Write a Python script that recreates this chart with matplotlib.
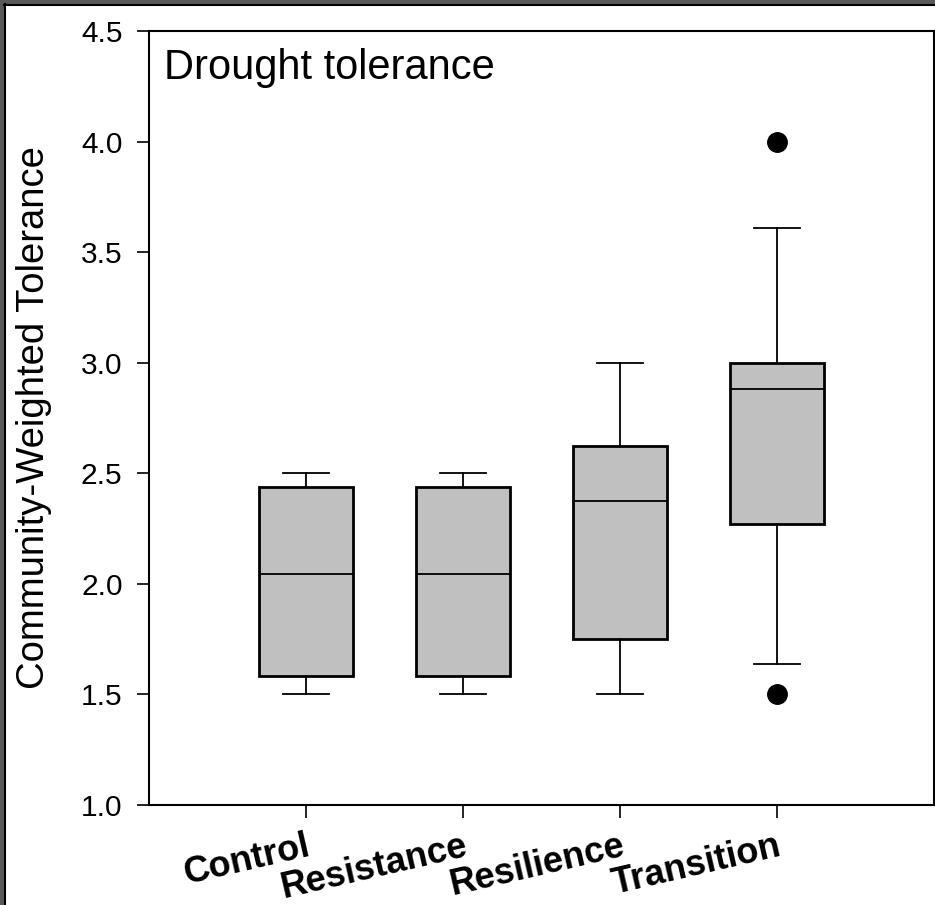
import numpy as np
import matplotlib.pyplot as plt
from matplotlib.patches import Rectangle

plt.rcParams['font.family'] = ['Liberation Sans', 'DejaVu Sans']

groups = ['Control', 'Resistance', 'Resilience', 'Transition']
whislo = [1.5, 1.5, 1.5, 1.636]
q1 = [1.583, 1.583, 1.75, 2.27]
med = [2.044, 2.044, 2.375, 2.88]
q3 = [2.438, 2.438, 2.625, 3.0]
whishi = [2.5, 2.5, 3.0, 3.61]
fliers = [[], [], [], [4.0, 1.5]]

stats = []
for i in range(len(groups)):
    stats.append({'label': groups[i], 'whislo': whislo[i], 'q1': q1[i], 'med': med[i],
                  'q3': q3[i], 'whishi': whishi[i], 'fliers': fliers[i]})

fig = plt.figure(figsize=(9.35, 9.05), dpi=100)
ax = fig.add_axes([149/935, 1-805/905, 785/935, 774/905])

pos = np.arange(1, len(groups)+1)
ax.bxp(stats, positions=pos, widths=0.6, capwidths=0.29, patch_artist=True,
       boxprops=dict(facecolor='#c0c0c0', edgecolor='black', linewidth=2.0),
       medianprops=dict(color='black', linewidth=1.3),
       whiskerprops=dict(color='black', linewidth=1.3),
       capprops=dict(color='black', linewidth=1.3),
       flierprops=dict(marker='o', markerfacecolor='black', markeredgecolor='black', markersize=14))

ax.set_xlim(0, 5)
ax.set_ylim(1.0, 4.5)
ax.set_yticks(np.arange(1.0, 4.51, 0.5))
ax.set_yticklabels(['%.1f' % v for v in np.arange(1.0, 4.51, 0.5)])
ax.set_xticks(pos)
ax.set_xticklabels(groups, rotation=13, ha='right', va='top', rotation_mode='anchor',
                   fontsize=26, fontweight='bold')
ax.tick_params(axis='y', labelsize=21.5, length=9, width=1.2, pad=10)
ax.tick_params(axis='x', length=9, width=1.2, pad=8)
for s in ax.spines.values():
    s.set_linewidth(1.5)

ax.set_ylabel('Community-Weighted Tolerance', fontsize=27.5)
ax.yaxis.set_label_coords(-0.124, 0.5)
ax.text(0.019, 0.938, 'Drought tolerance', transform=ax.transAxes, fontsize=30,
        ha='left', va='baseline')

# grey frame on top and left edge
fig.patches.append(Rectangle((0, 1-4/905), 1, 4/905, transform=fig.transFigure,
                             facecolor='#5a5a5a', edgecolor='none', zorder=0))
fig.patches.append(Rectangle((0, 0), 4/935, 1, transform=fig.transFigure,
                             facecolor='#5a5a5a', edgecolor='none', zorder=0))
fig.add_artist(plt.Line2D([4/935, 1], [1-5/905, 1-5/905], color='black', lw=1.5,
                          transform=fig.transFigure))
fig.add_artist(plt.Line2D([5/935, 5/935], [0, 1-4/905], color='black', lw=1.5,
                          transform=fig.transFigure))

fig.savefig('out.png', dpi=100)
